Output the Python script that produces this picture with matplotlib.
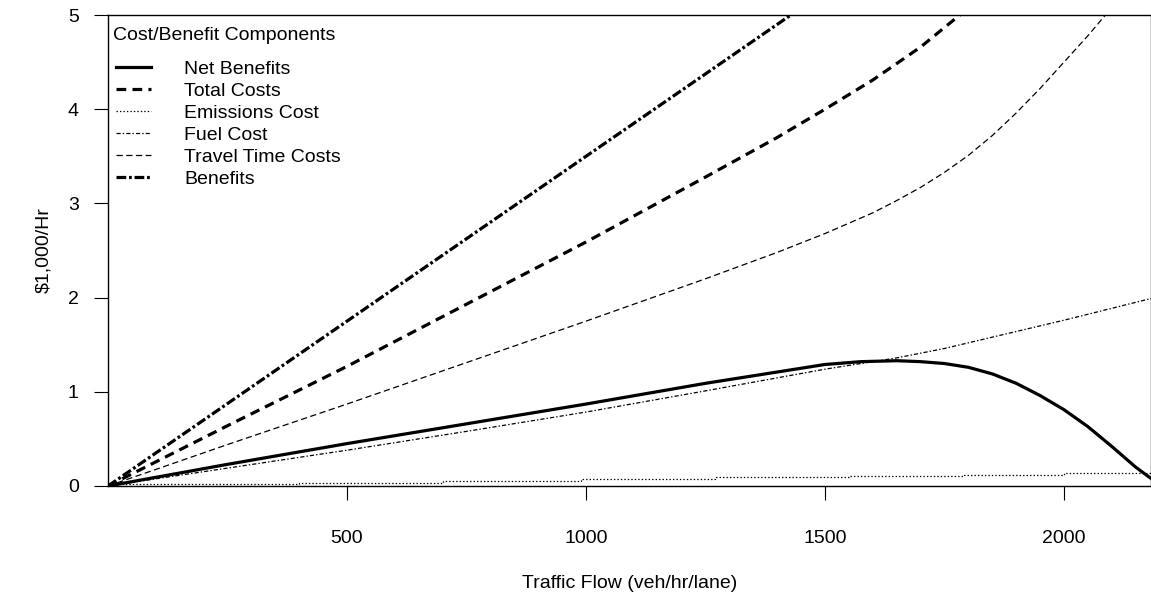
import numpy as np
import matplotlib.pyplot as plt

plt.rcParams['font.family'] = ['Liberation Sans', 'DejaVu Sans']
plt.rcParams['lines.scale_dashes'] = False

# Cost/benefit components vs traffic flow ($1,000/hr)
flow_net = [0, 250, 500, 750, 1000, 1250, 1500, 1575, 1650, 1700, 1750, 1800, 1850,
            1900, 1950, 2000, 2050, 2100, 2150, 2182]
net_benefits = [0, 0.23, 0.45, 0.66, 0.87, 1.09, 1.29, 1.32, 1.33, 1.32, 1.30, 1.26, 1.19,
                1.09, 0.96, 0.81, 0.63, 0.42, 0.2, 0.08]

flow_total = [0, 250, 500, 750, 1000, 1250, 1400, 1500, 1600, 1700, 1782, 1850]
total_costs = [0, 0.64, 1.27, 1.93, 2.59, 3.28, 3.70, 4.0, 4.31, 4.66, 5.0, 5.32]

flow_emis = [0, 400, 700, 990, 1270, 1550, 1790, 2000, 2182]
emissions_cost = [0.02, 0.035, 0.053, 0.071, 0.099, 0.106, 0.117, 0.135, 0.135]

flow_fuel = [0, 250, 500, 750, 1000, 1250, 1500, 1650, 1750, 2000, 2182]
fuel_cost = [0, 0.19, 0.38, 0.58, 0.785, 1.01, 1.24, 1.36, 1.46, 1.76, 1.99]

flow_travel = [0, 250, 500, 750, 1000, 1250, 1400, 1500, 1600, 1650, 1700, 1750, 1800,
               1850, 1900, 1950, 2000, 2050, 2100, 2150]
travel_cost = [0, 0.44, 0.87, 1.31, 1.75, 2.2, 2.48, 2.68, 2.9, 3.03, 3.17, 3.33, 3.51,
               3.72, 3.96, 4.22, 4.5, 4.78, 5.08, 5.4]

flow_benefit = [0, 500, 1000, 1500]
benefits = [0, 1.75, 3.5, 5.25]

fig = plt.figure(figsize=(11.51, 5.96), dpi=100)
ax = fig.add_axes([108/1151, 1 - 486/596, 1 - 108/1151, (486 - 15)/596])

thick = 2.3
thin = 0.9
ax.plot(flow_net, net_benefits, color='k', lw=thick, ls='-', label='Net Benefits')
ax.plot(flow_total, total_costs, color='k', lw=thick, ls=(0, (7, 4.5)), label='Total Costs')
ax.plot(flow_emis, emissions_cost, color='k', lw=thin, ls=(0, (1, 1.5)),
        drawstyle='steps-post', label='Emissions Cost')
ax.plot(flow_fuel, fuel_cost, color='k', lw=thin, ls=(0, (3, 1.5, 1, 1.5)), label='Fuel Cost')
ax.plot(flow_travel, travel_cost, color='k', lw=thin, ls=(0, (4.5, 2.5)), label='Travel Time Costs')
ax.plot(flow_benefit, benefits, color='k', lw=thick, ls=(0, (7, 2, 2, 2)), label='Benefits')

ax.set_xlim(0, 2182)
ax.set_ylim(0, 5)
ax.set_xticks([500, 1000, 1500, 2000])
ax.set_yticks([0, 1, 2, 3, 4, 5])
ax.tick_params(axis='x', direction='out', length=10, width=0.8, pad=22, labelsize=14)
ax.tick_params(axis='y', direction='out', length=10, width=0.8, pad=11, labelsize=14)
for s in ax.spines.values():
    s.set_linewidth(1.0)

ax.set_xlabel('Traffic Flow (veh/hr/lane)', fontsize=14, labelpad=20)
ax.set_ylabel(r'\$1,000/Hr', fontsize=14, labelpad=11)

# legend title placed separately so its gap to the entries can be set
ax.text(113/1151, 1 - 36/596, 'Cost/Benefit Components', transform=fig.transFigure,
        fontsize=14, ha='left', va='center')
leg = ax.legend(loc='upper left', bbox_to_anchor=(112/1151, 1 - 56/596),
                bbox_transform=fig.transFigure, frameon=False,
                fontsize=14, handlelength=1.8, handletextpad=1.7,
                labelspacing=0.23, borderaxespad=0.0, borderpad=0.2)

fig.savefig('out.png', dpi=100)
